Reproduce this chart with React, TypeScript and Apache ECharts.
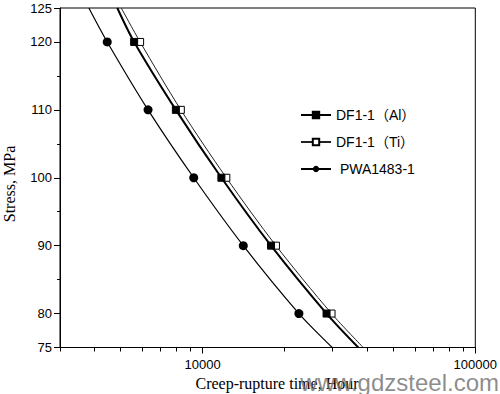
import React, { useEffect, useRef } from 'react';
import * as echarts from 'echarts';

// Stress levels (MPa) of the tested points
const stress = [120, 110, 100, 90, 80];
// Creep-rupture times (hours)
const dfAlTimes = [5610, 7980, 11720, 17820, 28480];
const dfTiTimes = [5900, 8320, 12220, 18580, 29700];
const pwaTimes = [4470, 6310, 9280, 14100, 22550];
// Fitted-curve ends: times at the top (125 MPa) and bottom (75 MPa) of the frame
const curveEndStress = [125, 75];
const dfAlEnds = [4867, 37240];
const dfTiEnds = [5032, 38820];
const pwaEnds = [3828, 29900];

const xTickValues = [3000, 4000, 5000, 6000, 7000, 8000, 9000, 10000, 20000, 30000, 40000, 50000, 60000, 70000, 80000, 90000, 100000];
const xMajorTicks = [10000, 100000];
const xLabelValues = [10000, 100000];
const yLabelValues = [75, 80, 90, 100, 110, 120, 125];
const yMinorTicks = [85, 95, 105, 115];

const SANS = '"Liberation Sans", Arial, "Noto Sans CJK SC", sans-serif';
const SERIF = '"Liberation Serif", "Times New Roman", serif';

function buildData(times: number[], ends: number[]) {
  const pts: any[] = [];
  pts.push({ value: [ends[0], curveEndStress[0]], symbol: 'none' });
  times.forEach((t, i) => pts.push({ value: [t, stress[i]] }));
  pts.push({ value: [ends[1], curveEndStress[1]], symbol: 'none' });
  return pts;
}

export default function App() {
  const ref = useRef<HTMLDivElement>(null);
  useEffect(() => {
    if (!ref.current) return;
    const chart = echarts.init(ref.current, null, { renderer: 'svg' });
    const baseX = {
      type: 'log' as const,
      logBase: 10,
      min: 3000,
      max: 100000,
      splitLine: { show: false },
    };
    const baseY = {
      type: 'value' as const,
      min: 75,
      max: 125,
      splitLine: { show: false },
    };
    chart.setOption({
      animation: false,
      backgroundColor: '#fff',
      grid: { left: 60, right: 22, top: 8, bottom: 46.5, show: true, borderColor: '#000', borderWidth: 1, backgroundColor: 'transparent' },
      xAxis: [
        {
          ...baseX,
          axisLine: { show: true, lineStyle: { color: '#000', width: 1 } },
          axisTick: { show: true, customValues: xTickValues, length: 4, inside: false, lineStyle: { color: '#000' } },
          axisLabel: { show: true, customValues: xLabelValues, margin: 10, color: '#000', fontFamily: SANS, fontSize: 13, formatter: (v: number) => String(Math.round(v)) },
        },
        {
          ...baseX,
          position: 'bottom',
          axisLine: { show: false },
          axisTick: { show: true, customValues: xMajorTicks, length: 6, lineStyle: { color: '#000' } },
          axisLabel: { show: false },
        },
      ],
      yAxis: [
        {
          ...baseY,
          axisLine: { show: true, lineStyle: { color: '#000', width: 1 } },
          axisTick: { show: true, customValues: yLabelValues, length: 6, lineStyle: { color: '#000' } },
          axisLabel: { show: true, customValues: yLabelValues, margin: 8, color: '#000', fontFamily: SANS, fontSize: 13 },
        },
        {
          ...baseY,
          position: 'left',
          axisLine: { show: false },
          axisTick: { show: true, customValues: yMinorTicks, length: 3, lineStyle: { color: '#000' } },
          axisLabel: { show: false },
        },
      ],
      legend: {
        orient: 'vertical',
        left: 295,
        top: 103,
        padding: 5,
        itemWidth: 30,
        itemHeight: 8,
        itemGap: 13,
        data: ['DF1-1（Al）', 'DF1-1（Ti）', 'PWA1483-1'],
        formatter: (name: string) => (name === 'PWA1483-1' ? ' ' + name : name),
        textStyle: { color: '#000', fontFamily: SANS, fontSize: 14 },
      },
      series: [
        {
          name: 'DF1-1（Al）',
          type: 'line',
          smooth: 0.3,
          data: buildData(dfAlTimes, dfAlEnds),
          symbol: 'rect',
          symbolSize: 7,
          itemStyle: { color: '#000', borderColor: '#000', borderWidth: 1 },
          lineStyle: { color: '#000', width: 2 },
          z: 3,
        },
        {
          name: 'DF1-1（Ti）',
          type: 'line',
          smooth: 0.3,
          data: buildData(dfTiTimes, dfTiEnds),
          symbol: 'rect',
          symbolSize: 7,
          itemStyle: { color: '#fff', borderColor: '#000', borderWidth: 1 },
          lineStyle: { color: '#222', width: 1 },
          z: 2,
        },
        {
          name: 'PWA1483-1',
          type: 'line',
          smooth: 0.3,
          data: buildData(pwaTimes, pwaEnds),
          symbol: 'circle',
          symbolSize: 9,
          itemStyle: { color: '#000', borderColor: '#000', borderWidth: 0 },
          lineStyle: { color: '#000', width: 1.2 },
          z: 2,
        },
      ],
      graphic: [
        {
          type: 'text',
          x: 9,
          y: 184,
          rotation: Math.PI / 2,
          style: { text: 'Stress, MPa', font: `16px ${SERIF}`, fill: '#000', align: 'center', verticalAlign: 'middle' },
        },
        {
          type: 'text',
          x: 277,
          y: 383,
          style: { text: 'Creep-rupture time, Hour', font: `16px ${SERIF}`, fill: '#000', align: 'center', verticalAlign: 'middle' },
        },
        {
          type: 'text',
          x: 499,
          y: 382,
          z: 100,
          style: { text: 'www.gdzsteel.com', font: `24px ${SANS}`, fill: 'rgba(120,120,120,0.85)', align: 'right', verticalAlign: 'middle' },
        },
      ],
    });
    return () => chart.dispose();
  }, []);
  return <div ref={ref} style={{ position: 'fixed', left: 0, top: 0, width: 500, height: 394 }} />;
}
